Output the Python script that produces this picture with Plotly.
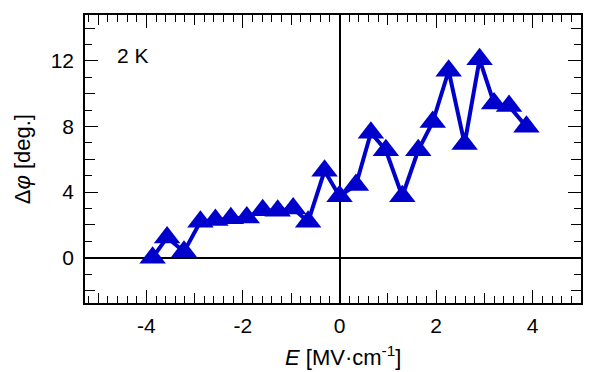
import plotly.graph_objects as go

# Data
E_field = [-3.87, -3.57, -3.22, -2.88, -2.57, -2.25, -1.92, -1.59, -1.28, -0.96,
           -0.65, -0.31, 0.0, 0.34, 0.65, 0.96, 1.30, 1.63, 1.93, 2.26,
           2.59, 2.90, 3.20, 3.51, 3.87]
delta_phi = [0.0, 1.24, 0.37, 2.2, 2.3, 2.4, 2.45, 2.9, 2.87, 3.0,
             2.2, 5.3, 3.75, 4.43, 7.62, 6.55, 3.75, 6.55, 8.27, 11.4,
             6.94, 12.1, 9.41, 9.25, 7.99]

x_major = [-4, -2, 0, 2, 4]
x_major_text = ["-4", "-2", "0", "2", "4"]
x_medium = [-5, -3, -1, 1, 3, 5]
y_major = [0, 4, 8, 12]
y_major_text = ["0", "4", "8", "12"]
y_medium = [-2, 2, 6, 10, 14]

XR = [-5.27, 5.0]
YR = [-2.76, 14.8]
FONT = "Liberation Sans, Arial, sans-serif"
BLUE = "#0000CC"
L, R, T, B = 85, 8, 15, 69
PW = 591 - L - R

fig = go.Figure()
fig.add_trace(go.Scatter(
    x=E_field, y=delta_phi, mode="lines+markers",
    line=dict(color=BLUE, width=4),
    marker=dict(symbol="triangle-up", size=23, color=BLUE),
    showlegend=False, cliponaxis=False))
# invisible trace to anchor the overlay axes
fig.add_trace(go.Scatter(x=[0], y=[0], xaxis="x2", yaxis="y2", mode="markers",
                         marker=dict(opacity=0), showlegend=False, hoverinfo="skip"))

common = dict(showgrid=False, ticks="inside", tickcolor="black", tickwidth=1.3,
              mirror="ticks", color="black")

fig.update_layout(
    width=591, height=372,
    margin=dict(l=L, r=R, t=T, b=B),
    paper_bgcolor="white", plot_bgcolor="white",
    font=dict(family=FONT, size=21, color="black"),
    xaxis=dict(range=XR, tickvals=x_major, ticktext=x_major_text, ticklen=13,
               showline=True, linecolor="black", linewidth=1.5,
               zeroline=True, zerolinecolor="black", zerolinewidth=1.5,
               minor=dict(dtick=0.2, tick0=0, ticks="inside", ticklen=7,
                          tickcolor="black", tickwidth=1.3),
               tickfont=dict(size=21), ticklabelstandoff=3, **common),
    yaxis=dict(range=YR, tickvals=y_major, ticktext=y_major_text, ticklen=13,
               showline=True, linecolor="black", linewidth=1.5,
               zeroline=True, zerolinecolor="black", zerolinewidth=1.5,
               minor=dict(dtick=1, tick0=0, ticks="inside", ticklen=7,
                          tickcolor="black", tickwidth=1.3),
               tickfont=dict(size=21), ticklabelstandoff=5, **common),
    xaxis2=dict(range=XR, overlaying="x", anchor="y2", side="bottom",
                tickvals=x_medium, ticklen=10, showticklabels=False,
                showline=False, zeroline=False, **common),
    yaxis2=dict(range=YR, overlaying="y", anchor="x2", side="left",
                tickvals=y_medium, ticklen=10, showticklabels=False,
                showline=False, zeroline=False, **common),
    annotations=[
        dict(text="2 K", x=(115 - L) / PW, y=12.35, xref="paper", yref="y",
             xanchor="left", yanchor="middle", showarrow=False,
             font=dict(size=21)),
        dict(text="<i>E</i> [MV·cm<sup>-1</sup>]", x=(344 - L) / PW, y=356,
             xref="paper", yref="paper", xanchor="center", yanchor="middle",
             showarrow=False, font=dict(size=22)),
        dict(text="Δ<i>φ</i> [deg.]", x=(22 - L) / PW, y=0.5, xref="paper",
             yref="paper", showarrow=False, textangle=-90, font=dict(size=22),
             xanchor="center", yanchor="middle"),
    ],
)
# x-title vertical centre in pixels -> paper coords
PH = 372 - T - B
fig.layout.annotations[1].y = (372 - B - 356) / PH

fig.write_html("out.html")
